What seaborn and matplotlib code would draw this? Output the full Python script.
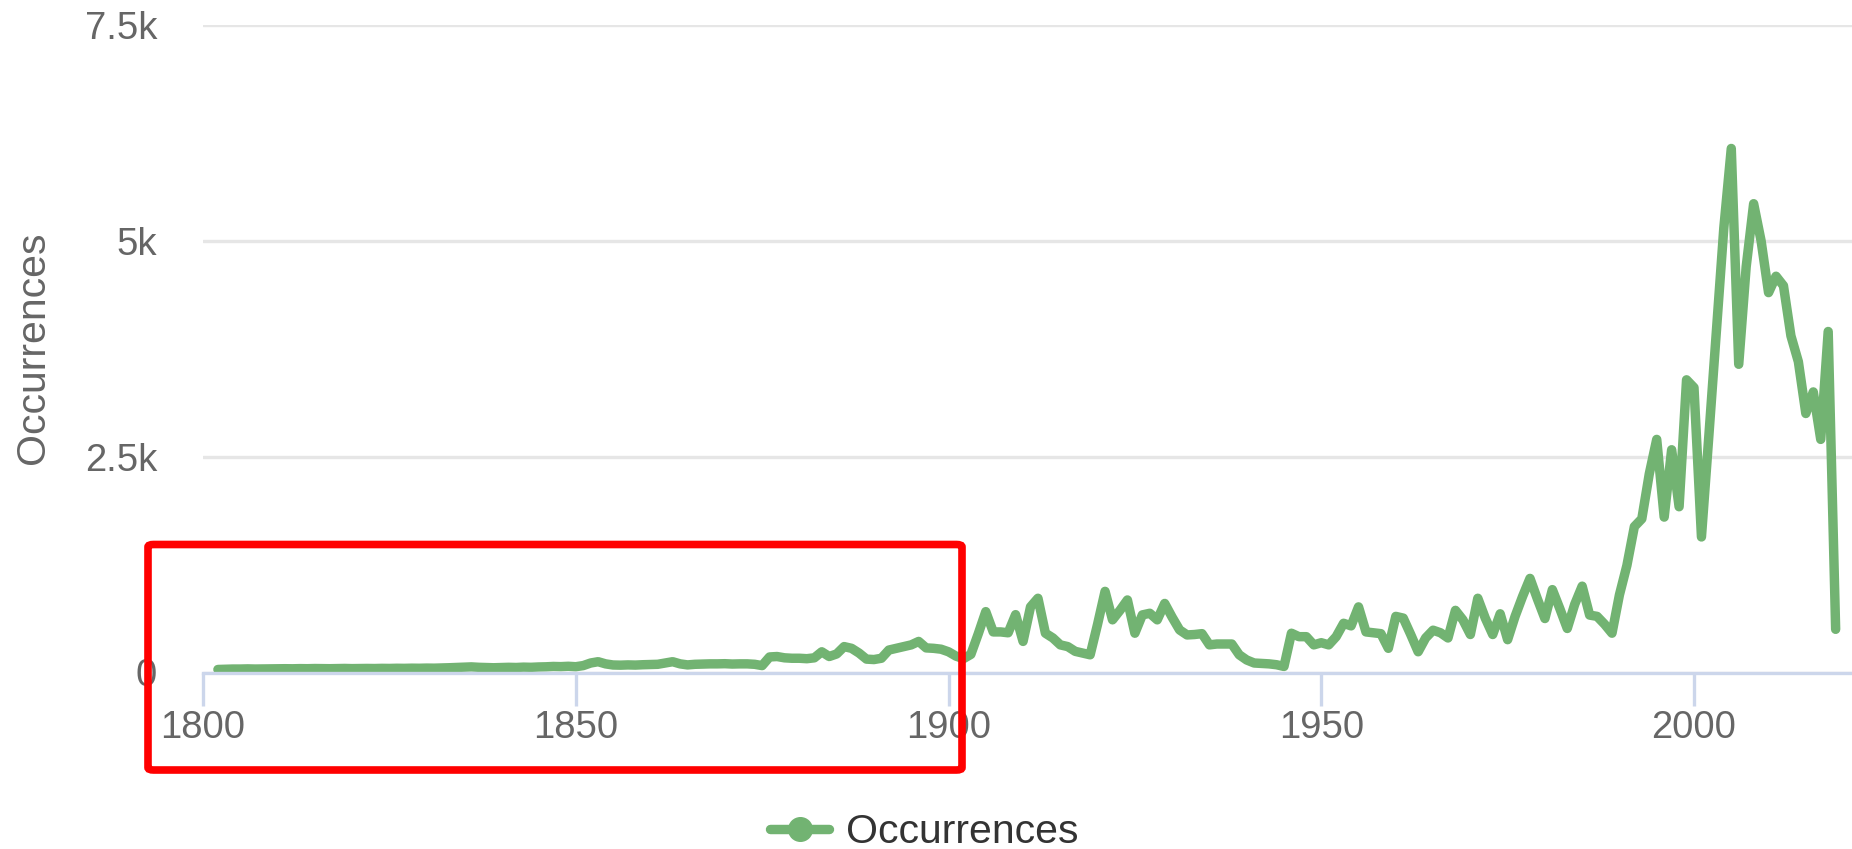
import matplotlib
matplotlib.use("Agg")
import matplotlib.pyplot as plt
from matplotlib.lines import Line2D
from matplotlib.patches import FancyBboxPatch
import pandas as pd
import seaborn as sns

# yearly occurrences
years = list(range(1802, 2020))
occ_1802_1849 = [35, 38, 40, 40, 42, 40, 41, 43, 42, 44,
                 43, 45, 44, 46, 45, 44, 46, 47, 45, 46,
                 47, 46, 48, 47, 49, 48, 50, 49, 51, 50,
                 52, 55, 58, 62, 65, 60, 58, 55, 57, 60,
                 58, 62, 60, 64, 66, 70, 68, 72]
occ_1850_1899 = [67, 80, 110, 125, 100, 87, 85, 88, 86, 90,
                 92, 95, 110, 125, 100, 88, 95, 98, 100, 100,
                 102, 98, 100, 100, 95, 80, 180, 185, 170, 165,
                 165, 160, 170, 240, 185, 215, 300, 280, 225, 155,
                 150, 165, 260, 280, 300, 320, 360, 285, 280, 270]
occ_1900_1949 = [240, 190, 160, 210, 450, 705, 470, 470, 460, 670,
                 360, 760, 860, 455, 400, 320, 300, 245, 225, 205,
                 560, 940, 610, 720, 840, 455, 667, 686, 610, 800,
                 640, 493, 435, 440, 450, 320, 330, 330, 330, 205,
                 145, 110, 105, 100, 90, 70, 455, 415, 415, 320]
occ_1950_1989 = [345, 320, 415, 570, 540, 760, 470, 460, 450, 280,
                 650, 630, 440, 240, 400, 490, 460, 400, 720, 610,
                 440, 860, 630, 440, 680, 380, 650, 880, 1090, 850,
                 625, 960, 740, 510, 790, 1000, 665, 650, 560, 455]
occ_1990_2019 = [900, 1240, 1690, 1780, 2300, 2700, 1800, 2580, 1920, 3390,
                 3300, 1570, 2750, 3950, 5150, 6070, 3570, 4700, 5430, 5000,
                 4400, 4590, 4480, 3900, 3600, 3000, 3250, 2700, 3950, 500]
occurrences = occ_1802_1849 + occ_1850_1899 + occ_1900_1949 + occ_1950_1989 + occ_1990_2019

x_ticks = [1800, 1850, 1900, 1950, 2000]
y_ticks = [0, 2500, 5000, 7500]
y_tick_labels = ["0", "2.5k", "5k", "7.5k"]

df = pd.DataFrame({"year": years, "occurrences": occurrences})

green = "#72b372"
W, H = 1852, 849

sns.set_style("white")
plt.rcParams["font.family"] = ["Liberation Sans", "DejaVu Sans"]

fig = plt.figure(figsize=(W / 100, H / 100), dpi=100)
ax = fig.add_axes([203 / W, 1 - 672.5 / H, (W - 203) / W, 647.5 / H])

sns.lineplot(data=df, x="year", y="occurrences", color=green, linewidth=6.8,
             solid_joinstyle="round", solid_capstyle="round", ax=ax, legend=False)

ax.set_xlim(1800, 1800 + (W - 203) / 7.455)
ax.set_ylim(0, 7500)
ax.set_xticks(x_ticks)
ax.set_yticks(y_ticks)
ax.set_yticklabels(y_tick_labels)
ax.set_xlabel("")
ax.set_ylabel("")

ax.set_axisbelow(True)
ax.yaxis.grid(True, color="#e6e6e6", linewidth=2.4)
ax.xaxis.grid(False)
for s in ["top", "right", "left"]:
    ax.spines[s].set_visible(False)
ax.spines["bottom"].set_color("#ccd6eb")
ax.spines["bottom"].set_linewidth(2.4)

ax.tick_params(axis="x", bottom=True, length=24, width=2.4, color="#ccd6eb",
               labelsize=27.5, labelcolor="#666666", pad=3)
ax.tick_params(axis="y", left=False, length=0, labelsize=27.5, labelcolor="#666666", pad=33)

fig.text(33 / W, 1 - 348 / H, "Occurrences", rotation=90, ha="center", va="center",
         fontsize=29.5, color="#666666")

handle = Line2D([], [], color=green, linewidth=6.8, marker="o", markersize=17)
fig.legend(handles=[handle], labels=["Occurrences"], loc="center",
           bbox_to_anchor=(924 / W, 1 - 832 / H), frameon=False, fontsize=29.5,
           handlelength=1.45, handletextpad=0.4, labelcolor="#333333")

# red highlight box
box = FancyBboxPatch((148 / W, 1 - 770 / H), (962 - 148) / W, (770 - 544.5) / H,
                     boxstyle="round,pad=0,rounding_size=0.003",
                     transform=fig.transFigure, fill=False, edgecolor="#ff0000",
                     linewidth=5.5, zorder=10)
fig.add_artist(box)

fig.savefig("out.png", dpi=100)
